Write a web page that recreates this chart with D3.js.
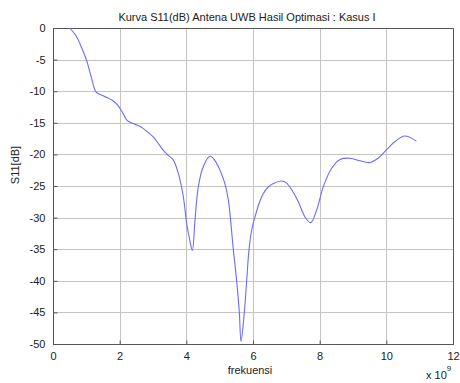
<!DOCTYPE html>
<html>
<head>
<meta charset="utf-8">
<script src="https://cdn.jsdelivr.net/npm/d3@7"></script>
<style>
  html, body { margin: 0; padding: 0; background: #fff; }
  svg { display: block; font-family: "Liberation Sans", Arial, sans-serif; }
</style>
</head>
<body>
<svg id="chart" width="460" height="383"></svg>
<script>
// Frequency samples (units of 1e9 Hz) and measured S11 in dB
const freq = [0.5, 0.7, 0.85, 1.0, 1.15, 1.29, 1.45, 1.62, 1.8, 1.94, 2.1, 2.22, 2.4, 2.62, 2.8, 3.0,
  3.15, 3.3, 3.45, 3.61, 3.76, 3.91, 4.01, 4.1, 4.18, 4.26, 4.36, 4.51, 4.71, 4.85, 5.01, 5.15,
  5.26, 5.41, 5.51, 5.59, 5.64, 5.74, 5.81, 5.88, 5.96, 6.06, 6.2, 6.31, 6.45, 6.61, 6.86, 7.0,
  7.16, 7.36, 7.56, 7.73, 7.91, 8.11, 8.36, 8.61, 8.91, 9.21, 9.49, 9.75, 10.0, 10.25, 10.55, 10.9];
const s11 = [0.0, -1.3, -3.0, -5.0, -7.8, -10.1, -10.6, -11.0, -11.5, -12.2, -13.5, -14.6, -15.1, -15.6, -16.3, -17.2,
  -18.2, -19.3, -20.1, -20.9, -23.0, -26.7, -30.9, -33.5, -35.2, -30.4, -25.1, -21.9, -20.3, -20.9, -22.5, -24.5,
  -27.2, -35.1, -40.0, -45.0, -49.6, -45.0, -40.0, -35.1, -32.0, -29.9, -27.5, -26.2, -25.2, -24.6, -24.2, -24.5,
  -25.6, -27.5, -29.9, -30.8, -28.8, -25.1, -22.2, -20.8, -20.6, -21.0, -21.3, -20.6, -19.3, -18.0, -17.1, -17.9];

const xTicks = [0, 2, 4, 6, 8, 10, 12];
const yTicks = [0, -5, -10, -15, -20, -25, -30, -35, -40, -45, -50];

const titleText = "Kurva S11(dB) Antena UWB Hasil Optimasi : Kasus I";
const xLabel = "frekuensi";
const yLabel = "S11[dB]";

const plotL = 53, plotR = 453, plotT = 28, plotB = 344;
const x = d3.scaleLinear().domain([0, 12]).range([plotL, plotR]);
const y = d3.scaleLinear().domain([-50, 0]).range([plotB, plotT]);

const svg = d3.select("#chart");
const textColor = "#222";

// grid lines
const grid = svg.append("g");
grid.selectAll("line.gx").data(xTicks).join("line")
  .attr("x1", d => Math.round(x(d)) + 0.5).attr("x2", d => Math.round(x(d)) + 0.5)
  .attr("y1", plotT).attr("y2", plotB)
  .attr("stroke", "#c4c4c4").attr("stroke-width", 1);
grid.selectAll("line.gy").data(yTicks).join("line")
  .attr("x1", plotL).attr("x2", plotR)
  .attr("y1", d => Math.round(y(d)) + 0.5).attr("y2", d => Math.round(y(d)) + 0.5)
  .attr("stroke", "#c4c4c4").attr("stroke-width", 1);

// axes with inward ticks
const xAxis = svg.append("g").attr("transform", `translate(0,${plotB + 0.5})`)
  .call(d3.axisBottom(x).tickValues(xTicks).tickFormat(d3.format("d")).tickSizeInner(-4).tickSizeOuter(0).tickPadding(9));
const yAxis = svg.append("g").attr("transform", `translate(${plotL + 0.5},0)`)
  .call(d3.axisLeft(y).tickValues(yTicks).tickFormat(d3.format("d")).tickSizeInner(-4).tickSizeOuter(0).tickPadding(8));
[xAxis, yAxis].forEach(g => {
  g.select(".domain").remove();
  g.selectAll(".tick line").attr("stroke", "#555");
  g.selectAll(".tick text").attr("fill", textColor).attr("font-size", 11)
    .attr("font-family", "Liberation Sans, Arial, sans-serif");
});
yAxis.selectAll(".tick text").text(d => String(d));
xAxis.selectAll(".tick text").attr("dy", "0.55em");

// box outline
svg.append("rect")
  .attr("x", plotL + 0.5).attr("y", plotT + 0.5)
  .attr("width", plotR - plotL).attr("height", plotB - plotT)
  .attr("fill", "none").attr("stroke", "#555").attr("stroke-width", 1);

// S11 curve
const pts = freq.map((f, i) => [f, s11[i]]);
svg.append("path")
  .datum(pts)
  .attr("fill", "none")
  .attr("stroke", "#6b6bff")
  .attr("stroke-width", 1.1)
  .attr("d", d3.line().x(d => x(d[0])).y(d => y(d[1])).curve(d3.curveCatmullRom.alpha(0.5)));

// labels
svg.append("text").attr("x", 247).attr("y", 21).attr("text-anchor", "middle")
  .attr("font-size", 11).attr("fill", textColor).text(titleText);
svg.append("text").attr("x", 250).attr("y", 374).attr("text-anchor", "middle")
  .attr("font-size", 11).attr("fill", textColor).text(xLabel);
svg.append("text").attr("transform", "translate(19,165) rotate(-90)")
  .attr("text-anchor", "middle").attr("font-size", 11).attr("fill", textColor).text(yLabel);
const mult = svg.append("text").attr("x", 426).attr("y", 379).attr("font-size", 11).attr("fill", textColor);
mult.append("tspan").text("x 10");
mult.append("tspan").attr("dy", -8).attr("font-size", 8).text("9");
</script>
</body>
</html>
